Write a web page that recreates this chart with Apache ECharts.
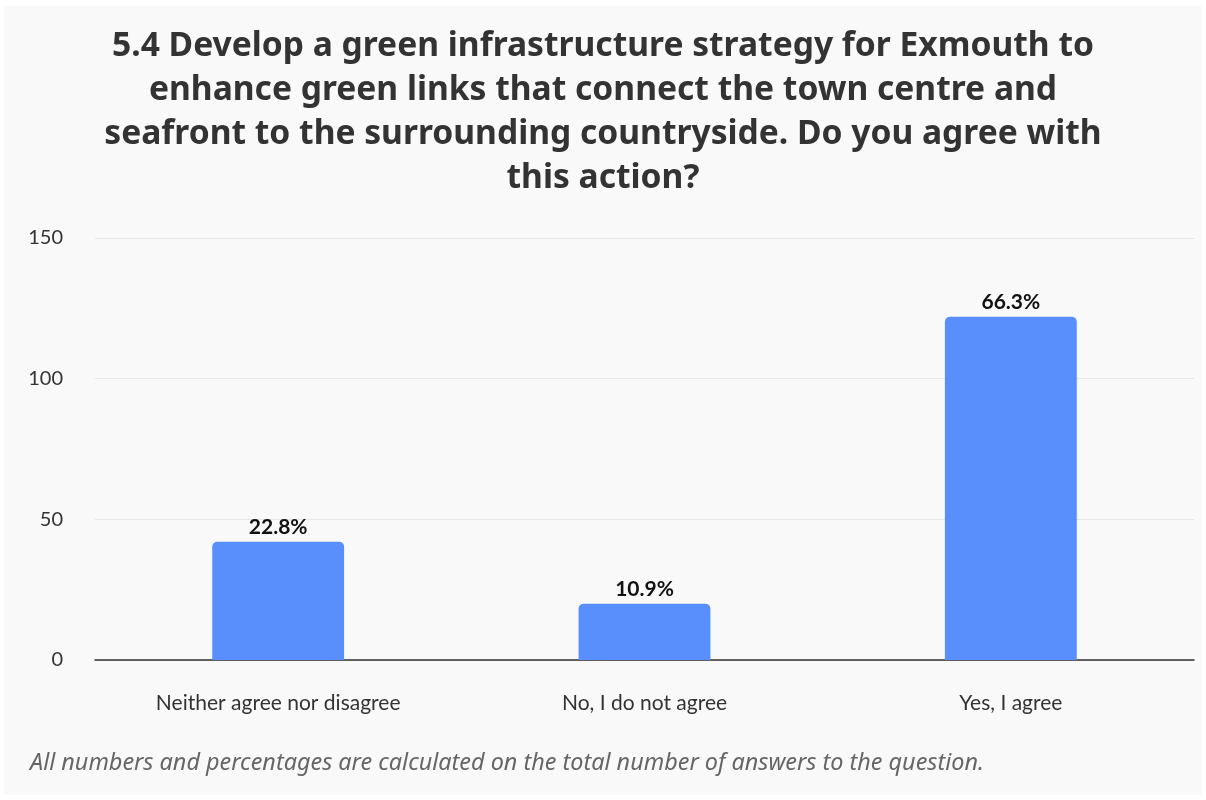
<!DOCTYPE html>
<html>
<head>
<meta charset="utf-8">
<style>
  html, body { margin: 0; padding: 0; background: #ffffff; }
  #chart { width: 1206px; height: 800px; }
</style>
<script src="https://cdn.jsdelivr.net/npm/echarts@6/dist/echarts.min.js"></script>
</head>
<body>
<div id="chart"></div>
<script>
// Survey answers for question 5.4 (number of respondents per answer)
const categories = ['Neither agree nor disagree', 'No, I do not agree', 'Yes, I agree'];
const counts = [42, 20, 122];
const yTicks = [0, 50, 100, 150];

const titleText = '5.4 Develop a green infrastructure strategy for Exmouth to\nenhance green links that connect the town centre and\nseafront to the surrounding countryside. Do you agree with\nthis action?';
const footnote = 'All numbers and percentages are calculated on the total number of answers to the question.';

const total = counts.reduce((a, b) => a + b, 0);
const FONT = 'Lato, "Noto Sans", sans-serif';
const WIDE_FONT = '"Noto Sans", Lato, sans-serif';

const chart = echarts.init(document.getElementById('chart'), null, { renderer: 'canvas' });

chart.setOption({
  backgroundColor: '#ffffff',
  animation: false,
  textStyle: { fontFamily: FONT },
  graphic: [
    {
      type: 'rect',
      z: -10,
      silent: true,
      shape: { x: 4, y: 6, width: 1198, height: 789 },
      style: { fill: '#f9f9f9' }
    },
    {
      type: 'text',
      x: 603,
      y: 24,
      style: {
        text: titleText,
        font: 'bold 33.6px ' + WIDE_FONT,
        fill: '#333333',
        align: 'center',
        verticalAlign: 'top',
        lineHeight: 44
      }
    },
    {
      type: 'text',
      x: 30,
      y: 752,
      style: {
        text: footnote,
        font: 'italic 23.4px ' + WIDE_FONT,
        fill: '#666666',
        verticalAlign: 'top'
      }
    }
  ],
  grid: {
    left: 95,
    right: 12,
    top: 238,
    bottom: 140,
    containLabel: false
  },
  xAxis: {
    type: 'category',
    data: categories,
    axisTick: { show: false },
    axisLine: { lineStyle: { color: '#333333', width: 1.5 } },
    axisLabel: {
      color: '#333333',
      fontSize: 21,
      margin: 33,
      fontFamily: FONT
    }
  },
  yAxis: {
    type: 'value',
    min: yTicks[0],
    max: yTicks[yTicks.length - 1],
    interval: yTicks[1] - yTicks[0],
    axisLine: { show: false },
    axisTick: { show: false },
    splitLine: { lineStyle: { color: '#e6e6e6', width: 1 } },
    axisLabel: {
      color: '#333333',
      fontSize: 20,
      margin: 32,
      fontFamily: FONT
    }
  },
  series: [
    {
      type: 'bar',
      data: counts,
      barWidth: '36%',
      itemStyle: { color: '#588ffc', borderRadius: [5, 5, 0, 0] },
      label: {
        show: true,
        position: 'top',
        distance: 4,
        color: '#111111',
        fontSize: 21,
        fontWeight: 'bold',
        fontFamily: FONT,
        formatter: (p) => (p.value / total * 100).toFixed(1) + '%'
      }
    }
  ]
});
</script>
</body>
</html>
